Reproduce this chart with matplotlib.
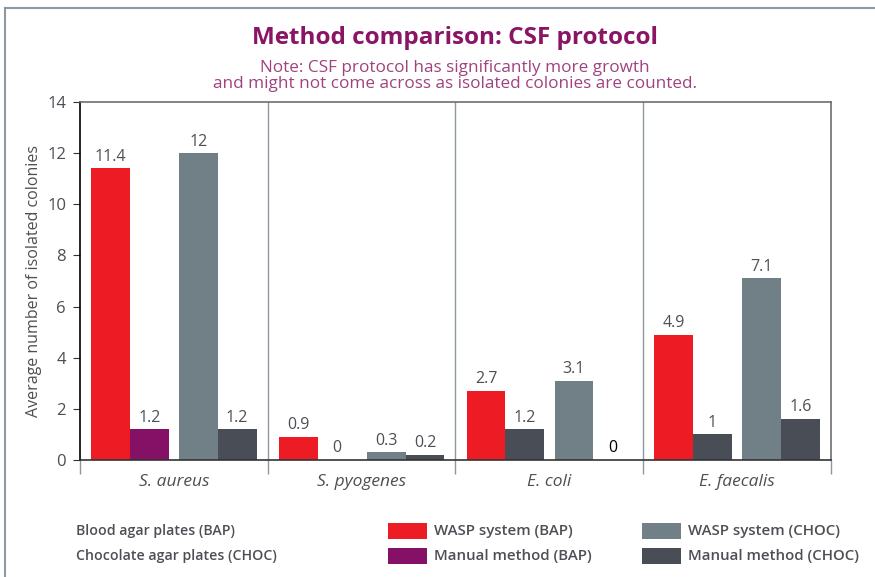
import matplotlib
matplotlib.use("Agg")
import matplotlib.pyplot as plt
from matplotlib.patches import Rectangle
from matplotlib.lines import Line2D
import numpy as np

# --- data ---
organisms = ["S. aureus", "S. pyogenes", "E. coli", "E. faecalis"]
wasp_bap = [11.4, 0.9, 2.7, 4.9]
manual_bap = [1.2, 0.0, 1.2, 1.0]
wasp_choc = [12.0, 0.3, 3.1, 7.1]
manual_choc = [1.2, 0.2, 0.0, 1.6]
series_names = ["WASP system (BAP)", "Manual method (BAP)",
                "WASP system (CHOC)", "Manual method (CHOC)"]
plate_notes = ["Blood agar plates (BAP)", "Chocolate agar plates (CHOC)"]
y_ticks = [0, 2, 4, 6, 8, 10, 12, 14]

RED = "#ed1c24"
PURPLE = "#841166"
GRAY = "#717f87"
DARK = "#494d55"
TEXT = "#4d4f54"
# the source chart paints the E. coli / E. faecalis manual BAP bars in charcoal
manual_bap_colors = [PURPLE, PURPLE, DARK, DARK]

plt.rcParams["font.family"] = ["Open Sans", "DejaVu Sans"]

fig = plt.figure(figsize=(8.75, 5.77), dpi=100)
ax = fig.add_axes([0.0914, 0.2028, 0.8583, 0.6204])

x = np.arange(len(organisms))
w = 0.206
offsets = [-0.3375, -0.131, 0.131, 0.3375]
values = [wasp_bap, manual_bap, wasp_choc, manual_choc]
colors = [RED, manual_bap_colors, GRAY, DARK]

for off, vals, col in zip(offsets, values, colors):
    ax.bar(x + off, vals, width=w, color=col, linewidth=0)
    for xi, v in zip(x, vals):
        lab_col = "black" if (v == 0 and off > 0) else TEXT
        ax.text(xi + off, v + 0.14, f"{v:g}", ha="center", va="bottom",
                fontsize=11.5, color=lab_col)

ax.set_xlim(-0.5, len(organisms) - 0.5)
ax.set_ylim(0, 14)
ax.set_yticks(y_ticks)
ax.tick_params(axis="y", labelsize=12, labelcolor=TEXT, length=5,
               color="#333333", pad=5)

# group boundaries as major ticks, names on minor ticks
bounds = np.arange(len(organisms) + 1) - 0.5
ax.set_xticks(bounds)
ax.set_xticklabels([])
ax.tick_params(axis="x", which="major", length=10, color="#8f989f", width=1)
ax.set_xticks(x, minor=True)
ax.set_xticklabels(organisms, minor=True, fontstyle="italic", fontsize=12.5,
                   color=TEXT)
ax.tick_params(axis="x", which="minor", length=0, pad=10)
for b in bounds[1:-1]:
    ax.axvline(b, color="#8f989f", lw=1)

ax.spines["left"].set_color("black")
ax.spines["bottom"].set_color("#333333")
ax.spines["top"].set_color("#6d6e70")
ax.spines["right"].set_color("#6d6e70")
for s in ax.spines.values():
    s.set_linewidth(1.2)

ax.set_ylabel("Average number of isolated colonies", fontsize=11.5,
              color=TEXT, labelpad=4)

# titles
fig.text(0.52, 0.935, "Method comparison: CSF protocol", ha="center",
         va="center", fontsize=17.5, fontweight="bold", color="#8a1565")
fig.text(0.52, 0.869,
         "Note: CSF protocol has significantly more growth\n"
         "and might not come across as isolated colonies are counted.",
         ha="center", va="center", fontsize=12.3, color="#a0427f",
         linespacing=1.0)

# legend block
H = 577.0
W = 875.0
fig.text(76 / W, 1 - 531 / H, plate_notes[0], fontsize=10.2, color=TEXT,
         va="center", fontweight="semibold")
fig.text(76 / W, 1 - 556 / H, plate_notes[1], fontsize=10.2, color=TEXT,
         va="center", fontweight="semibold")
leg_cols = [RED, PURPLE, GRAY, DARK]
leg_x = [388, 388, 642, 642]
leg_y = [531, 556, 531, 556]
for name, col, lx, ly in zip(series_names, leg_cols, leg_x, leg_y):
    fig.add_artist(Rectangle((lx / W, 1 - (ly + 8) / H), 39 / W, 16 / H,
                             transform=fig.transFigure, color=col, lw=0))
    fig.text((lx + 46) / W, 1 - ly / H, name, fontsize=10.8, color=TEXT,
             va="center", fontweight="semibold")

# outer frame
frame = "#8c98a3"
fig.add_artist(Line2D([5 / W, 5 / W], [0, 1 - 8 / H], color=frame, lw=1.5,
                      transform=fig.transFigure))
fig.add_artist(Line2D([5 / W, 1], [1 - 8 / H, 1 - 8 / H], color=frame, lw=1.5,
                      transform=fig.transFigure))

fig.savefig("out.png", dpi=100)
